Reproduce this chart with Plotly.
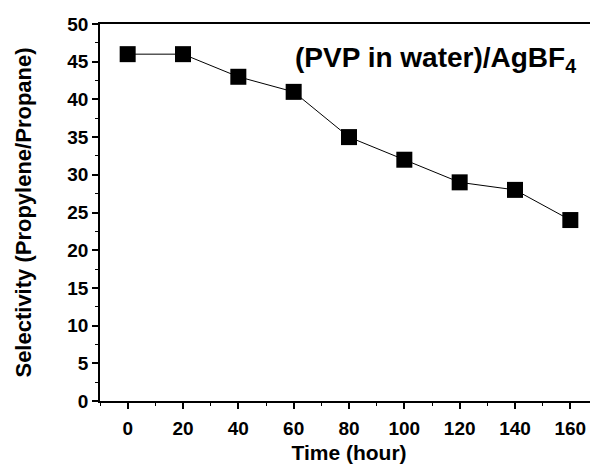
import plotly.graph_objects as go

time_hours = [0, 20, 40, 60, 80, 100, 120, 140, 160]
selectivity = [46, 46, 43, 41, 35, 32, 29, 28, 24]
x_ticks = [0, 20, 40, 60, 80, 100, 120, 140, 160]
y_ticks = [0, 5, 10, 15, 20, 25, 30, 35, 40, 45, 50]

FONT = "Liberation Sans, Arial, sans-serif"

fig = go.Figure()
fig.add_trace(go.Scatter(
    x=time_hours, y=selectivity, mode="lines+markers",
    line=dict(color="black", width=1),
    marker=dict(symbol="square", size=16, color="black"),
    showlegend=False,
))

fig.add_annotation(
    x=0.673, y=0.905, xref="paper", yref="paper",
    xanchor="center", yanchor="middle",
    text="<b>(PVP in water)/AgBF<sub>4</sub></b>",
    showarrow=False, font=dict(family=FONT, size=28, color="black"),
)

fig.update_xaxes(
    range=[-10, 170], tickvals=x_ticks, ticktext=[str(v) for v in x_ticks],
    showline=True, linecolor="black", linewidth=1.5, mirror=True,
    ticks="outside", ticklen=6, tickwidth=1.5, tickcolor="black",
    minor=dict(dtick=10, tick0=0, ticks="outside", ticklen=3, tickcolor="black", tickwidth=1),
    showgrid=False, zeroline=False, ticklabelstandoff=3,
    tickfont=dict(family=FONT, size=19, color="black", weight="bold"),
    title=dict(text="<b>Time (hour)</b>", font=dict(family=FONT, size=21, color="black"), standoff=8),
)
fig.update_yaxes(
    range=[0, 50], tickvals=y_ticks, ticktext=[str(v) for v in y_ticks],
    showline=True, linecolor="black", linewidth=1.5, mirror=False,
    ticks="outside", ticklen=6, tickwidth=1.5, tickcolor="black",
    minor=dict(dtick=2.5, tick0=0, ticks="outside", ticklen=3, tickcolor="black", tickwidth=1),
    showgrid=False, zeroline=False,
    tickfont=dict(family=FONT, size=19, color="black", weight="bold"),
    title=dict(text="<b>Selectivity (Propylene/Propane)</b>", font=dict(family=FONT, size=22, color="black"), standoff=30),
)

# The page body has an 8px default margin, so the figure is 8px smaller
# and its margins shifted to keep the plot area where the reference has it.
fig.update_layout(
    width=590, height=461,
    margin=dict(l=92, r=0, t=16, b=68),
    plot_bgcolor="white", paper_bgcolor="white",
)

fig.write_html("out.html")
